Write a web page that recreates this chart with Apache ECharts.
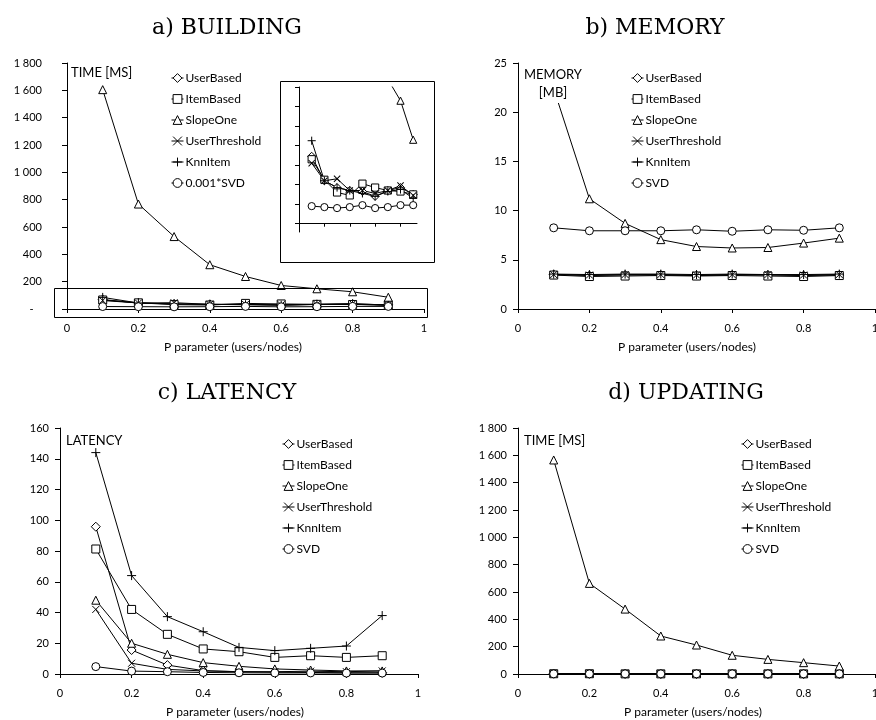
<!DOCTYPE html>
<html>
<head>
<meta charset="utf-8">
<script src="https://cdn.jsdelivr.net/npm/echarts@6/dist/echarts.min.js"></script>
<style>html,body{margin:0;padding:0;background:#fff}#c{width:876px;height:720px}</style>
</head>
<body>
<div id="c"></div>
<script>
// ---------- DATA ----------
const P = [0.1, 0.2, 0.3, 0.4, 0.5, 0.6, 0.7, 0.8, 0.9];
const seriesNames = ['UserBased', 'ItemBased', 'SlopeOne', 'UserThreshold', 'KnnItem', 'SVD'];
const buildingSvdName = '0.001*SVD';

// a) BUILDING  time [ms]  (SVD scaled by 0.001)
const buildUserBased     = [69, 44, 37, 34, 33, 28, 34, 37, 30];
const buildItemBased     = [66, 45, 32, 29, 41, 37, 34, 33, 30];
const buildSlopeOne      = [1605, 768, 530, 324, 238, 172, 148, 126, 86];
const buildUserThreshold = [62, 44, 46, 34, 34, 31, 34, 39, 29];
const buildKnnItem       = [85, 44, 37, 34, 31, 28, 33, 35, 26];
const buildSVD           = [18, 17, 16, 17, 19, 16, 17, 19, 19];

// b) MEMORY [MB]
const memUserBased     = [3.5, 3.4, 3.45, 3.45, 3.4, 3.45, 3.45, 3.4, 3.45];
const memItemBased     = [3.45, 3.3, 3.35, 3.4, 3.35, 3.4, 3.35, 3.3, 3.4];
const memSlopeOne      = [22.4, 11.2, 8.7, 7.05, 6.35, 6.2, 6.25, 6.7, 7.2];
const memUserThreshold = [3.5, 3.45, 3.5, 3.5, 3.45, 3.5, 3.5, 3.45, 3.5];
const memKnnItem       = [3.55, 3.5, 3.55, 3.55, 3.5, 3.55, 3.5, 3.5, 3.55];
const memSVD           = [8.25, 7.95, 7.95, 7.95, 8.05, 7.9, 8.05, 8.0, 8.25];

// c) LATENCY
const latUserBased     = [95.8, 15.6, 5.8, 2.2, 1.5, 1.2, 1.0, 0.8, 0.8];
const latItemBased     = [81.3, 42, 25.8, 16.3, 14.5, 10.8, 11.9, 10.8, 11.9];
const latSlopeOne      = [48, 20, 12.8, 7.4, 5.0, 3.3, 2.6, 2.0, 2.0];
const latUserThreshold = [42, 7, 3, 2, 1.5, 1.5, 1.8, 1.5, 2];
const latKnnItem       = [144, 64, 37.3, 27.5, 17.3, 15.2, 16.7, 18.2, 38];
const latSVD           = [4.8, 1.9, 1.5, 1.0, 0.8, 0.7, 0.7, 0.6, 0.6];

// d) UPDATING time [ms]
const updUserBased     = [3, 2, 2, 1, 1, 1, 1, 1, 1];
const updItemBased     = [2, 2, 1, 1, 1, 1, 1, 1, 1];
const updSlopeOne      = [1566, 663, 475, 278, 212, 137, 107, 83, 58];
const updUserThreshold = [2, 1, 1, 1, 1, 1, 1, 1, 1];
const updKnnItem       = [3, 2, 2, 2, 1, 1, 1, 1, 1];
const updSVD           = [1, 1, 1, 1, 1, 1, 1, 1, 1];

// tick values
const insetXTicks = [0.2, 0.4, 0.6, 0.8];
const insetYTicks = [0, 20, 40, 60, 80, 100, 120, 140];

// ---------- STYLE ----------
const SYM = {
  UserBased: 'diamond', ItemBased: 'rect', SlopeOne: 'triangle',
  UserThreshold: 'path://M0,0L10,10M0,10L10,0',
  KnnItem: 'path://M5,0L5,10M0,5L10,5',
  SVD: 'circle'
};
const SIZE = { UserBased: 9, ItemBased: 8, SlopeOne: 8, UserThreshold: 7, KnnItem: 9, SVD: 8 };
const FONT = 'Lato';

function pts(vals) { return P.map((p, i) => [p, vals[i]]); }
function thousands(v) {
  const s = String(Math.round(v));
  return s.replace(/\B(?=(\d{3})+(?!\d))/g, ' ');
}
function mkSeries(key, name, vals, axis, scale) {
  const sz = SIZE[key] * (scale || 1);
  return {
    type: 'line', name: name, xAxisIndex: axis, yAxisIndex: axis,
    data: pts(vals), symbol: SYM[key], symbolSize: sz, showSymbol: true,
    clip: true, animation: false, silent: true,
    lineStyle: { color: '#000', width: 1 },
    itemStyle: { color: '#fff', borderColor: '#000', borderWidth: 1 },
    emphasis: { disabled: true }
  };
}
function xAx(gi, extra) {
  return Object.assign({
    type: 'value', gridIndex: gi, min: 0, max: 1, interval: 0.2,
    axisLine: { show: true, onZero: true, lineStyle: { color: '#000', width: 1 } },
    axisTick: { show: true, length: 4, lineStyle: { color: '#000' } },
    axisLabel: { color: '#000', fontFamily: FONT, fontSize: 11, margin: 14,
                 formatter: v => String(+v.toFixed(1)) },
    splitLine: { show: false }
  }, extra || {});
}
function yAx(gi, min, max, interval, fmt, margin, extra) {
  return Object.assign({
    type: 'value', gridIndex: gi, min: min, max: max, interval: interval,
    axisLine: { show: true, onZero: false, lineStyle: { color: '#000', width: 1 } },
    axisTick: { show: true, length: 5, lineStyle: { color: '#000' } },
    axisLabel: { color: '#000', fontFamily: FONT, fontSize: 11, margin: margin, formatter: fmt },
    splitLine: { show: false }
  }, extra || {});
}
function legend(left, top, names) {
  return {
    orient: 'vertical', left: left, top: top, itemWidth: 12, itemHeight: 11, itemGap: 7,
    selectedMode: false, data: names,
    itemStyle: { color: '#fff', borderColor: '#000', borderWidth: 1 },
    lineStyle: { color: '#000', width: 1 },
    textStyle: { fontFamily: FONT, fontSize: 12, color: '#000', lineHeight: 14, padding: [0, 0, 0, -3] }
  };
}
function txt(x, y, text, size, family, align) {
  return {
    type: 'text', x: x, y: y, z: 100,
    style: { text: text, fill: '#000', fontSize: size, fontFamily: family,
             align: align || 'center', verticalAlign: 'middle' }
  };
}

const grids = [
  { left: 67, top: 63, width: 357, height: 246 },    // a main
  { left: 299, top: 87, width: 118, height: 145 },   // a inset
  { left: 518, top: 63, width: 357, height: 246 },   // b
  { left: 60, top: 428, width: 358, height: 246 },   // c
  { left: 518, top: 428, width: 357, height: 246 }   // d
].map(g => Object.assign({ containLabel: false, outerBoundsMode: 'none' }, g));

const xAxes = [
  xAx(0),
  xAx(1, { max: 0.93, interval: null,
           axisTick: { show: true, length: 3, customValues: insetXTicks, lineStyle: { color: '#000' } },
           axisLabel: { show: false } }),
  xAx(2), xAx(3), xAx(4)
];
const yAxes = [
  yAx(0, 0, 1800, 200, v => v === 0 ? '-   ' : thousands(v), 25),
  yAx(1, -8.5, 140, null, v => '', 8, {
      axisTick: { show: true, length: 4, customValues: insetYTicks, lineStyle: { color: '#000' } },
      axisLabel: { show: false } }),
  yAx(2, 0, 25, 5, v => String(v), 11),
  yAx(3, 0, 160, 20, v => String(v), 11),
  yAx(4, 0, 1800, 200, v => thousands(v), 11)
];

const panels = [
  { axis: 0, data: [buildUserBased, buildItemBased, buildSlopeOne, buildUserThreshold, buildKnnItem, buildSVD], svd: buildingSvdName, scale: 1 },
  { axis: 1, data: [buildUserBased, buildItemBased, buildSlopeOne, buildUserThreshold, buildKnnItem, buildSVD], svd: buildingSvdName, scale: 0.9 },
  { axis: 2, data: [memUserBased, memItemBased, memSlopeOne, memUserThreshold, memKnnItem, memSVD], svd: 'SVD', scale: 1 },
  { axis: 3, data: [latUserBased, latItemBased, latSlopeOne, latUserThreshold, latKnnItem, latSVD], svd: 'SVD', scale: 1 },
  { axis: 4, data: [updUserBased, updItemBased, updSlopeOne, updUserThreshold, updKnnItem, updSVD], svd: 'SVD', scale: 1 }
];
const series = [];
panels.forEach(p => {
  seriesNames.forEach((key, i) => {
    const name = key === 'SVD' ? p.svd : key;
    series.push(mkSeries(key, name, p.data[i], p.axis, p.scale));
  });
});

const namesA = seriesNames.map(n => n === 'SVD' ? buildingSvdName : n);

const TITLE_FONT = 'DejaVu Serif';
const option = {
  animation: false,
  backgroundColor: '#fff',
  grid: grids,
  xAxis: xAxes,
  yAxis: yAxes,
  legend: [
    legend(166, 66, namesA),
    legend(626, 66, seriesNames),
    legend(277, 432, seriesNames),
    legend(736, 432, seriesNames)
  ],
  series: series,
  graphic: [
    txt(227, 28, 'a) BUILDING', 22, TITLE_FONT),
    txt(655, 28, 'b) MEMORY', 22, TITLE_FONT),
    txt(227, 393, 'c) LATENCY', 22, TITLE_FONT),
    txt(686, 393, 'd) UPDATING', 22, TITLE_FONT),
    txt(233, 347, 'P parameter (users/nodes)', 12, FONT),
    txt(687, 347, 'P parameter (users/nodes)', 12, FONT),
    txt(235, 712, 'P parameter (users/nodes)', 12, FONT),
    txt(693, 712, 'P parameter (users/nodes)', 12, FONT),
    txt(71, 73, 'TIME [MS]', 13, FONT, 'left'),
    {
      type: 'text', x: 553, y: 84, z: 100,
      style: { text: 'MEMORY\n[MB]', fill: '#000', fontSize: 13, fontFamily: FONT,
               align: 'center', verticalAlign: 'middle', lineHeight: 18,
               backgroundColor: '#fff', padding: [1, 2, 1, 2] }
    },
    txt(66, 441, 'LATENCY', 13, FONT, 'left'),
    txt(524, 441, 'TIME [MS]', 13, FONT, 'left'),
    { type: 'rect', z: 50, shape: { x: 54.5, y: 288.5, width: 373, height: 29 },
      style: { fill: 'none', stroke: '#000', lineWidth: 1 } },
    { type: 'rect', z: 50, shape: { x: 280.5, y: 81.5, width: 154, height: 181 },
      style: { fill: 'none', stroke: '#000', lineWidth: 1 } }
  ]
};

const chart = echarts.init(document.getElementById('c'), null, { renderer: 'canvas' });
chart.setOption(option);
</script>
</body>
</html>
